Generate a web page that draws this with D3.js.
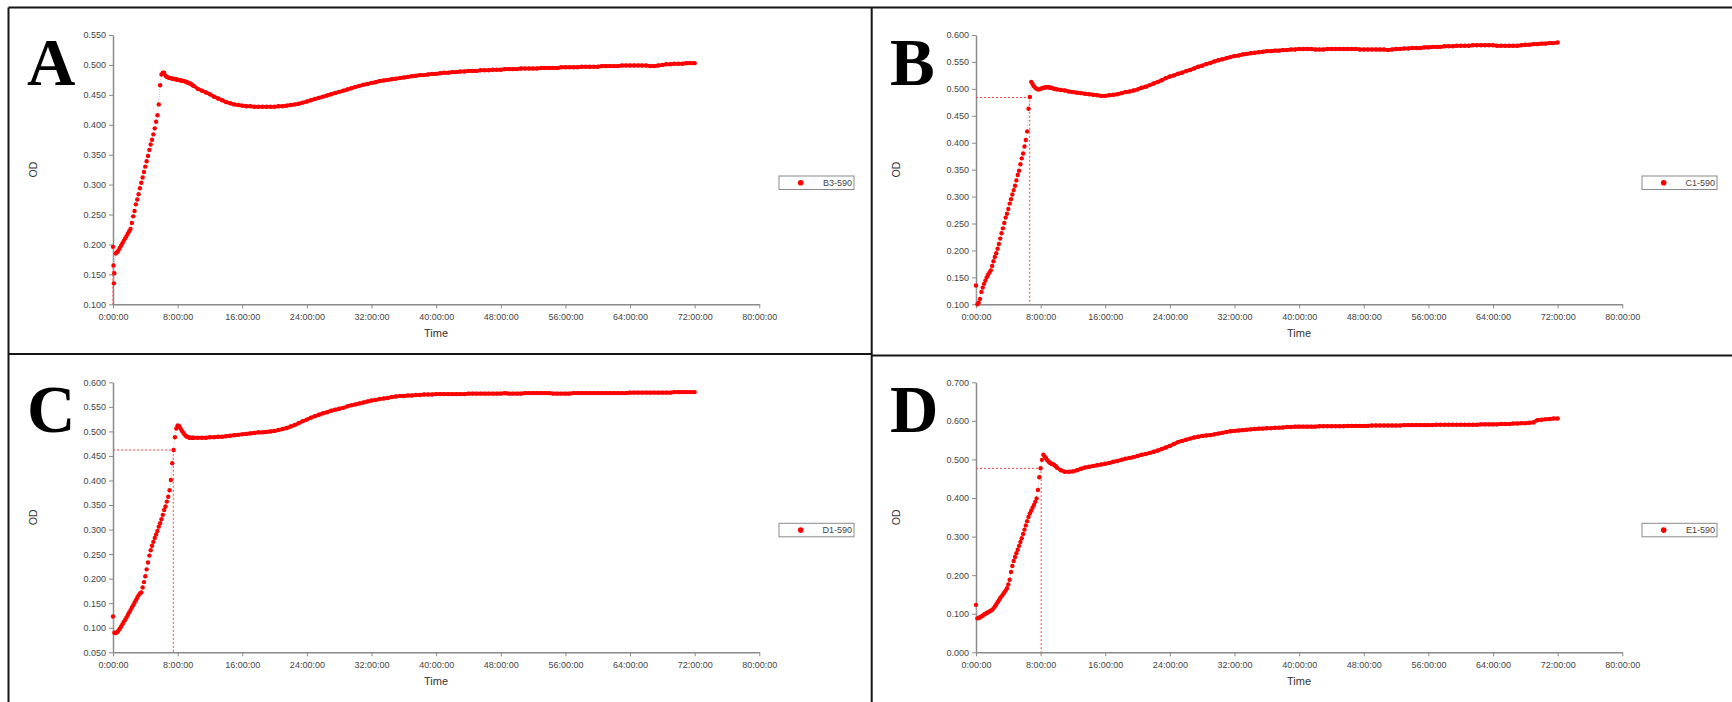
<!DOCTYPE html>
<html>
<head>
<meta charset="utf-8">
<script src="https://cdn.jsdelivr.net/npm/d3@7"></script>
<style>
  html, body { margin: 0; padding: 0; background: #fff; }
  svg { display: block; }
  .axis text { font-family: 'Liberation Sans', Arial, sans-serif; font-size: 9px; fill: #444; }
  .axis path, .axis line { stroke: #8a8a8a; }
  .title { font-family: 'Liberation Sans', Arial, sans-serif; fill: #333; }
  .letter { font-family: 'Liberation Serif', 'Times New Roman', serif; font-weight: bold; font-size: 67px; fill: #000; }
</style>
</head>
<body>
<svg id="chart" width="1732" height="702"></svg>
<script>
'use strict';

// readings every 10 min for the first 10 h
const riseA = [
  0.196, 0.152, 0.185, 0.187, 0.190, 0.194, 0.198, 0.202, 0.206, 0.210,
  0.214, 0.218, 0.222, 0.226, 0.236, 0.247, 0.256, 0.267, 0.275, 0.284,
  0.294, 0.303, 0.312, 0.321, 0.330, 0.339, 0.348, 0.358, 0.367, 0.375,
  0.384, 0.394, 0.405, 0.416, 0.434, 0.466, 0.484, 0.487, 0.487, 0.482,
  0.480, 0.479, 0.478, 0.478, 0.477, 0.477, 0.476, 0.476, 0.475, 0.475,
  0.474, 0.474, 0.473, 0.473, 0.472, 0.471, 0.470, 0.469, 0.468, 0.466,
  0.465
];
const riseB = [
  0.135, 0.100, 0.103, 0.110, 0.123, 0.131, 0.138, 0.144, 0.150, 0.155,
  0.159, 0.163, 0.171, 0.180, 0.188, 0.195, 0.203, 0.212, 0.222, 0.232,
  0.241, 0.251, 0.261, 0.268, 0.277, 0.287, 0.295, 0.304, 0.312, 0.320,
  0.330, 0.340, 0.348, 0.360, 0.371, 0.380, 0.393, 0.405, 0.421, 0.463,
  0.485, 0.513, 0.509, 0.505, 0.502, 0.500, 0.499, 0.499, 0.500, 0.501,
  0.502, 0.502, 0.503, 0.503, 0.503, 0.502, 0.502, 0.501, 0.500, 0.500,
  0.499
];
const riseC = [
  0.123, 0.090, 0.089, 0.091, 0.094, 0.098, 0.102, 0.107, 0.112, 0.116,
  0.121, 0.126, 0.131, 0.136, 0.141, 0.146, 0.151, 0.156, 0.161, 0.166,
  0.170, 0.172, 0.182, 0.193, 0.205, 0.219, 0.233, 0.247, 0.258, 0.267,
  0.275, 0.283, 0.290, 0.297, 0.306, 0.313, 0.321, 0.330, 0.340, 0.347,
  0.357, 0.367, 0.380, 0.401, 0.435, 0.462, 0.488, 0.506, 0.512, 0.511,
  0.507, 0.502, 0.498, 0.494, 0.491, 0.489, 0.488, 0.487, 0.487, 0.487,
  0.487
];
const riseD = [
  0.123, 0.088, 0.089, 0.091, 0.093, 0.095, 0.098, 0.100, 0.102, 0.104,
  0.106, 0.108, 0.110, 0.114, 0.119, 0.124, 0.130, 0.135, 0.141, 0.145,
  0.150, 0.155, 0.160, 0.166, 0.176, 0.188, 0.208, 0.224, 0.237, 0.247,
  0.257, 0.266, 0.276, 0.286, 0.296, 0.307, 0.318, 0.329, 0.340, 0.351,
  0.360, 0.367, 0.375, 0.382, 0.390, 0.399, 0.421, 0.454, 0.477, 0.499,
  0.512, 0.508, 0.503, 0.498, 0.494, 0.491, 0.489, 0.488, 0.486, 0.483,
  0.479
];

// readings every 30 min from 10:30 to 72:00
const tailA = [
  0.460, 0.457, 0.454, 0.451, 0.447, 0.444, 0.441, 0.438, 0.436, 0.434,
  0.433, 0.432, 0.431, 0.431, 0.430, 0.430, 0.430, 0.430, 0.430, 0.430,
  0.431, 0.431, 0.432, 0.433, 0.434, 0.435, 0.437, 0.439, 0.441, 0.443,
  0.445, 0.447, 0.449, 0.451, 0.453, 0.455, 0.457, 0.459, 0.461, 0.463,
  0.465, 0.467, 0.468, 0.470, 0.471, 0.473, 0.474, 0.475, 0.476, 0.477,
  0.478, 0.479, 0.480, 0.481, 0.482, 0.483, 0.483, 0.484, 0.485, 0.485,
  0.486, 0.487, 0.487, 0.488, 0.488, 0.489, 0.489, 0.490, 0.490, 0.490,
  0.491, 0.491, 0.491, 0.492, 0.492, 0.492, 0.493, 0.493, 0.493, 0.493,
  0.494, 0.494, 0.494, 0.494, 0.494, 0.495, 0.495, 0.495, 0.495, 0.495,
  0.496, 0.496, 0.496, 0.496, 0.496, 0.497, 0.497, 0.497, 0.497, 0.497,
  0.498, 0.498, 0.498, 0.498, 0.498, 0.499, 0.499, 0.499, 0.499, 0.499,
  0.499, 0.499, 0.498, 0.498, 0.499, 0.500, 0.501, 0.501, 0.502, 0.502,
  0.502, 0.503, 0.503, 0.503
];
const tailB = [
  0.498, 0.497, 0.495, 0.494, 0.493, 0.492, 0.491, 0.490, 0.489, 0.488,
  0.487, 0.487, 0.488, 0.489, 0.490, 0.492, 0.494, 0.495, 0.497, 0.499,
  0.502, 0.504, 0.507, 0.510, 0.513, 0.516, 0.520, 0.523, 0.525, 0.528,
  0.530, 0.533, 0.535, 0.538, 0.541, 0.543, 0.546, 0.548, 0.551, 0.553,
  0.555, 0.557, 0.559, 0.561, 0.562, 0.564, 0.565, 0.566, 0.567, 0.568,
  0.569, 0.570, 0.570, 0.571, 0.571, 0.572, 0.572, 0.573, 0.573, 0.574,
  0.574, 0.574, 0.574, 0.573, 0.573, 0.573, 0.574, 0.574, 0.574, 0.574,
  0.574, 0.574, 0.574, 0.574, 0.573, 0.573, 0.573, 0.573, 0.573, 0.573,
  0.573, 0.572, 0.573, 0.574, 0.574, 0.575, 0.575, 0.576, 0.576, 0.576,
  0.577, 0.577, 0.578, 0.578, 0.578, 0.579, 0.579, 0.579, 0.580, 0.580,
  0.580, 0.580, 0.581, 0.581, 0.581, 0.581, 0.581, 0.581, 0.580, 0.580,
  0.580, 0.580, 0.580, 0.580, 0.581, 0.582, 0.582, 0.583, 0.583, 0.584,
  0.584, 0.585, 0.585, 0.586
];
const tailC = [
  0.487, 0.487, 0.487, 0.488, 0.488, 0.489, 0.489, 0.490, 0.491, 0.492,
  0.493, 0.494, 0.495, 0.496, 0.497, 0.498, 0.498, 0.499, 0.500, 0.501,
  0.503, 0.505, 0.507, 0.510, 0.513, 0.517, 0.521, 0.524, 0.528, 0.531,
  0.534, 0.537, 0.539, 0.542, 0.544, 0.546, 0.548, 0.551, 0.553, 0.555,
  0.557, 0.559, 0.561, 0.563, 0.564, 0.566, 0.567, 0.568, 0.570, 0.571,
  0.572, 0.572, 0.573, 0.573, 0.574, 0.574, 0.575, 0.575, 0.575, 0.576,
  0.576, 0.576, 0.576, 0.576, 0.576, 0.576, 0.576, 0.577, 0.577, 0.577,
  0.577, 0.577, 0.577, 0.577, 0.577, 0.577, 0.578, 0.577, 0.577, 0.577,
  0.577, 0.578, 0.578, 0.578, 0.578, 0.578, 0.578, 0.578, 0.577, 0.577,
  0.577, 0.577, 0.577, 0.578, 0.578, 0.578, 0.578, 0.578, 0.578, 0.578,
  0.578, 0.578, 0.578, 0.578, 0.578, 0.578, 0.578, 0.579, 0.579, 0.579,
  0.579, 0.579, 0.579, 0.579, 0.579, 0.579, 0.579, 0.579, 0.580, 0.580,
  0.580, 0.580, 0.580, 0.580
];
const tailD = [
  0.472, 0.468, 0.468, 0.469, 0.472, 0.476, 0.479, 0.481, 0.483, 0.485,
  0.487, 0.489, 0.491, 0.494, 0.496, 0.499, 0.502, 0.504, 0.506, 0.509,
  0.512, 0.514, 0.517, 0.520, 0.523, 0.527, 0.531, 0.535, 0.540, 0.545,
  0.548, 0.551, 0.554, 0.557, 0.559, 0.561, 0.562, 0.563, 0.565, 0.567,
  0.569, 0.571, 0.573, 0.574, 0.575, 0.576, 0.577, 0.578, 0.579, 0.580,
  0.580, 0.581, 0.581, 0.582, 0.582, 0.583, 0.584, 0.584, 0.585, 0.585,
  0.585, 0.585, 0.585, 0.585, 0.586, 0.586, 0.586, 0.586, 0.586, 0.586,
  0.586, 0.587, 0.587, 0.587, 0.587, 0.587, 0.587, 0.588, 0.588, 0.588,
  0.588, 0.588, 0.588, 0.588, 0.588, 0.589, 0.589, 0.589, 0.589, 0.589,
  0.589, 0.589, 0.589, 0.590, 0.590, 0.590, 0.590, 0.590, 0.590, 0.590,
  0.590, 0.590, 0.590, 0.590, 0.591, 0.591, 0.591, 0.591, 0.591, 0.592,
  0.592, 0.592, 0.593, 0.593, 0.594, 0.594, 0.595, 0.596, 0.602, 0.603,
  0.604, 0.605, 0.606, 0.606
];

// two extra early readings in A
const extraHoursA = [0.06, 0.11];
const extraA = [0.165, 0.135];

// reference point marked by the dotted crosshair [hours, OD]
const crossA = [0, 0.163];
const crossB = [6.65, 0.484];
const crossC = [7.46, 0.462];
const crossD = [8.06, 0.477];

const letters = ['A', 'B', 'C', 'D'];
const wells = ['B3-590', 'C1-590', 'D1-590', 'E1-590'];
const yDomains = [[0.1, 0.55], [0.1, 0.6], [0.05, 0.6], [0, 0.7]];
const ySteps = [0.05, 0.05, 0.05, 0.1];
const hourTicks = [0, 8, 16, 24, 32, 40, 48, 56, 64, 72, 80];

const riseHours = d3.range(61).map(i => i / 6);
const tailHours = d3.range(1, 125).map(i => 10 + i / 2);

const svg = d3.select('#chart');

const panels = [
  { rise: riseA, tail: tailA, cross: crossA, col: 0, row: 0 },
  { rise: riseB, tail: tailB, cross: crossB, col: 1, row: 0 },
  { rise: riseC, tail: tailC, cross: crossC, col: 0, row: 1 },
  { rise: riseD, tail: tailD, cross: crossD, col: 1, row: 1 }
];

panels.forEach((p, i) => drawPanel(p, i));
drawFrame();


function drawPanel(p, i) {
  const x0 = p.col ? 976 : 113,
    yTop = p.row ? 382.3 : 35,
    yBot = p.row ? 652.3 : 304.3;

  const x = d3.scaleLinear().domain([0, 80]).range([x0, x0 + 646.3]);
  const [lo, hi] = yDomains[i];
  const y = d3.scaleLinear().domain([lo, hi]).range([yBot, yTop]);
  const yTicks = d3.range(Math.round((hi - lo) / ySteps[i]) + 1).map(k => lo + k * ySteps[i]);

  let pts = riseHours.map((h, k) => [h, p.rise[k]])
    .concat(tailHours.map((h, k) => [h, p.tail[k]]));
  if (i === 0) {
    pts = pts.concat(extraHoursA.map((h, k) => [h, extraA[k]]));
    pts.sort((a, b) => a[0] - b[0]);
  }

  const g = svg.append('g');

  g.append('g')
    .attr('class', 'axis')
    .attr('transform', `translate(0,${yBot})`)
    .call(d3.axisBottom(x)
      .tickValues(hourTicks)
      .tickFormat(h => `${h}:00:00`)
      .tickSize(4)
      .tickSizeOuter(0)
      .tickPadding(5));

  g.append('g')
    .attr('class', 'axis')
    .attr('transform', `translate(${x0},0)`)
    .call(d3.axisLeft(y)
      .tickValues(yTicks)
      .tickFormat(d3.format('.3f'))
      .tickSize(4)
      .tickSizeOuter(0)
      .tickPadding(3));

  g.selectAll('.axis path').attr('stroke-width', 1.5);

  g.append('text')
    .attr('class', 'title')
    .attr('x', x0 + 323)
    .attr('y', yBot + 33)
    .attr('text-anchor', 'middle')
    .style('font-size', '11px')
    .text('Time');

  g.append('text')
    .attr('class', 'title')
    .attr('transform', `translate(${x0 - 80},${(yTop + yBot) / 2}) rotate(-90)`)
    .attr('text-anchor', 'middle')
    .attr('dy', '0.35em')
    .style('font-size', '10.5px')
    .text('OD');

  g.append('text')
    .attr('class', 'letter')
    .attr('x', x0 - 86)
    .attr('y', yTop + 50)
    .text(letters[i]);

  // crosshair
  const [ch, cv] = p.cross;
  g.append('path')
    .attr('d', `M${x(0)},${y(cv)}H${x(ch)}V${yBot}`)
    .attr('fill', 'none')
    .attr('stroke', '#ff3b3b')
    .attr('stroke-width', 1)
    .attr('stroke-dasharray', '2,2');

  const line = d3.line().x(d => x(d[0])).y(d => y(d[1]));

  // faint connecting line
  g.append('path')
    .datum(pts)
    .attr('d', line)
    .attr('fill', 'none')
    .attr('stroke', '#c4c4c4')
    .attr('stroke-width', 1)
    .attr('stroke-dasharray', '1,1.5');

  // dense readings merge into a solid trace after the peak
  g.append('path')
    .datum(pts.filter(d => d[0] >= 9))
    .attr('d', line)
    .attr('fill', 'none')
    .attr('stroke', '#ff0000')
    .attr('stroke-width', 3.6)
    .attr('stroke-linejoin', 'round');

  g.append('g')
    .selectAll('circle')
    .data(pts)
    .enter().append('circle')
    .attr('cx', d => x(d[0]))
    .attr('cy', d => y(d[1]))
    .attr('r', 2.2)
    .attr('fill', '#ff0000');

  // legend
  const lx = x0 + 666, ly = yTop + 141;
  const lg = g.append('g').attr('transform', `translate(${lx},${ly})`);
  lg.append('rect')
    .attr('width', 75)
    .attr('height', 13.5)
    .attr('fill', '#fff')
    .attr('stroke', '#8a8a8a')
    .attr('stroke-width', 1);
  lg.append('circle')
    .attr('cx', 21.7)
    .attr('cy', 6.8)
    .attr('r', 2.8)
    .attr('fill', '#ff0000');
  lg.append('text')
    .attr('class', 'title')
    .attr('x', 73)
    .attr('y', 10.2)
    .attr('text-anchor', 'end')
    .style('font-size', '9px')
    .style('fill', '#444')
    .text(wells[i]);
}

function drawFrame() {
  const f = svg.append('g')
    .attr('fill', 'none')
    .attr('stroke', '#151515')
    .attr('stroke-width', 2);
  f.append('path').attr('d', 'M8.5,7.5H1732');
  f.append('path').attr('d', 'M8.5,7.5V702');
  f.append('path').attr('d', 'M871.7,7.5V702');
  f.append('path').attr('d', 'M8.5,354H871.7');
  f.append('path').attr('d', 'M871.7,355.5H1732');
}
</script>
</body>
</html>
